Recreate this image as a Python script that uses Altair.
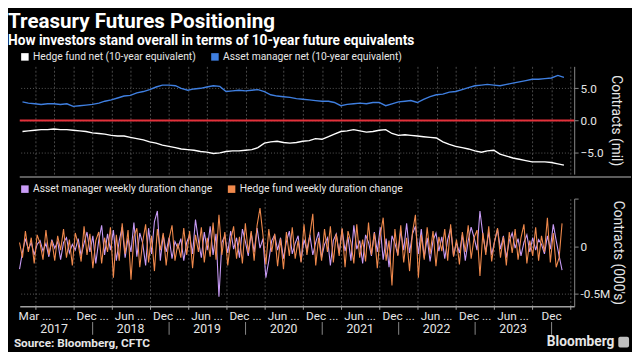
import altair as alt
import pandas as pd

# ---------------- data ----------------
# Monthly net positioning, millions of 10-year future equivalents
hedge_net = [-1.7, -1.6, -1.5, -1.4, -1.4, -1.3, -1.4, -1.4, -1.5, -1.6,
             -1.7, -1.9, -2.0, -2.1, -2.3, -2.4, -2.4, -2.6, -2.8, -3.0,
             -3.3, -3.5, -3.8, -4.0, -4.2, -4.4, -4.5, -4.6, -4.8, -4.9,
             -5.1, -5.0, -4.8, -4.7, -4.7, -4.6, -4.5, -4.2, -3.5, -3.3,
             -3.2, -3.4, -3.5, -3.4, -3.2, -3.1, -2.8, -2.9, -2.5, -2.1,
             -1.7, -1.6, -1.4, -1.6, -1.8, -1.7, -1.5, -1.4, -2.0, -2.3,
             -2.2, -2.3, -2.4, -2.5, -2.6, -2.7, -3.3, -3.7, -4.0, -4.2,
             -4.4, -4.7, -4.9, -4.7, -4.6, -5.2, -5.5, -5.8, -6.0, -6.2,
             -6.4, -6.4, -6.4, -6.5, -6.7, -6.9]
asset_net = [2.9, 2.7, 2.6, 2.5, 2.6, 2.6, 2.5, 2.6, 2.2, 2.3,
             2.4, 2.5, 2.7, 3.0, 3.2, 3.5, 3.8, 3.9, 4.3, 4.5,
             4.8, 5.2, 5.5, 5.5, 5.4, 5.0, 4.7, 4.9, 5.0, 5.2,
             5.4, 5.3, 4.5, 4.6, 4.7, 4.6, 4.7, 4.8, 4.5, 4.0,
             3.8, 3.7, 3.6, 3.4, 3.3, 3.2, 3.1, 3.0, 3.0, 2.8,
             2.3, 2.5, 2.6, 2.7, 2.6, 2.8, 2.8, 2.3, 2.6, 2.9,
             3.0, 3.1, 2.8, 3.3, 3.7, 4.0, 4.1, 4.4, 4.5, 4.8,
             5.1, 5.4, 5.5, 5.6, 5.5, 5.4, 5.6, 5.8, 6.0, 6.2,
             6.4, 6.4, 6.5, 6.6, 7.0, 6.7]

# Duration changes (thousands of contracts), sampled every two weeks
am_change = [-240, -60, 80, -30, 40, -90, 20, 60, -50, 30,
             -110, 70, -20, 50, -140, 40, 90, -70, 20, -40,
             80, -100, 30, 150, -60, 110, -180, 60, 220, -90,
             130, -40, 170, -150, 60, 200, -120, 90, -60, 250,
             -110, 140, 30, -200, 190, -80, 260, 370, -150, 120,
             -60, 90, -130, 50, -20, 80, -150, 40, 120, -80,
             280, 60, -120, 150, -40, 210, -90, 130, -530, 40,
             110, -70, 160, -30, 90, -120, 180, 50, -100, 140,
             -60, 190, -20, 80, -330, -150, 60, 120, -40, 90,
             -130, 50, 160, -80, 30, 110, -160, 70, -40, 120,
             -90, 40, 150, -120, 20, 90, -200, 60, 130, -70,
             180, -50, 100, -150, 220, -30, 60, -180, 120, 40,
             -100, 150, -60, 200, -140, 80, -220, 110, 30, -90,
             160, -40, 240, -70, 130, 210, -80, 180, -120, 90,
             -160, 60, 140, -50, 100, -130, 70, 190, -100, 40,
             -70, 120, -150, 60, 200, 90, -40, 370, 120, -60,
             150, -90, 50, 180, -30, 110, -120, 60, 140, -20,
             80, -100, 40, 120, -60, 90, -40, 70, 20, -80,
             110, -30, 230, 60, -100, -250]
hf_change = [40, -120, 160, -60, 90, -180, 120, 30, -140, 170,
             -90, 60, -150, 110, -40, 180, -120, 70, -200, 140,
             20, -160, 210, -90, 130, -230, 60, 150, -180, 90,
             -60, 200, -330, 120, -150, 240, -80, 170, -350, 100,
             190, -220, 50, 230, -170, 110, -260, 180, -40, 140,
             -200, 80, 220, -150, 30, -120, 190, -90, 160, -230,
             120, -60, 200, -170, 90, -110, 250, -140, 330, -90,
             150, -200, 60, 210, -130, 100, -180, 240, -70, 160,
             -150, 220, 400, 120, -190, 180, -60, 130, -210, 80,
             -240, 150, -100, 200, -130, 60, -170, 230, -90, 120,
             340, -200, 90, -150, 180, -60, 210, -170, 130, -100,
             190, -220, 160, 40, -180, 230, -120, 70, -160, 250,
             -90, 140, -230, 110, 300, -150, 60, -410, 180, -100,
             220, -170, 90, -260, 150, 330, -330, 120, -140, 200,
             -80, 160, -210, 100, -50, 180, -150, 230, -110, 70,
             -190, 150, -60, 220, -130, 90, 170, -310, 140, -90,
             210, -160, 60, 190, -120, 100, -200, 150, -70, 180,
             -140, 90, 230, -180, 60, -100, 200, -150, 110, -60,
             300, -170, 140, -220, -120, 240]

top_series = ["Hedge fund net (10-year equivalent)", "Asset manager net (10-year equivalent)"]
top_colors = ["#ffffff", "#3f7fe0"]
bot_series = ["Asset manager weekly duration change", "Hedge fund weekly duration change"]
bot_colors = ["#c99cf7", "#f0894c"]

tick_dates = ["2017-04-01", "2017-09-01", "2018-01-01", "2018-07-01", "2019-01-01", "2019-07-01",
              "2020-01-01", "2020-07-01", "2021-01-01", "2021-07-01", "2022-01-01", "2022-07-01",
              "2023-01-01", "2023-07-01", "2024-01-01"]
tick_texts = ["Mar ...", "...", "Dec ...", "Jun ...", "Dec ...", "Jun ...",
              "Dec ...", "Jun ...", "Dec ...", "Jun ...", "Dec ...", "Jun ...",
              "Dec ...", "Jun ...", "Dec"]

year_labels = ["2017", "2018", "2019", "2020", "2021", "2022", "2023"]
year_mid = ["2017-07-01", "2018-07-01", "2019-07-01", "2020-07-01", "2021-07-01", "2022-07-01", "2023-07-01"]
year_breaks = ["2018-01-01", "2019-01-01", "2020-01-01", "2021-01-01", "2022-01-01", "2023-01-01", "2024-01-01"]

title_text = "Treasury Futures Positioning"
subtitle_text = "How investors stand overall in terms of 10-year future equivalents"
source_text = "Source: Bloomberg, CFTC"

# ---------------- tables ----------------
month_dates = (pd.date_range("2017-02-01", periods=len(hedge_net), freq="MS")
               - pd.Timedelta(days=1)).strftime("%Y-%m-%d").tolist()
week_dates = pd.date_range("2017-01-17", periods=len(am_change), freq="14D").strftime("%Y-%m-%d").tolist()

top_df = pd.DataFrame({
    "date": month_dates * 2,
    "value": hedge_net + asset_net,
    "series": [top_series[0]] * len(hedge_net) + [top_series[1]] * len(asset_net),
})
bot_df = pd.DataFrame({
    "date": week_dates * 2,
    "value": am_change + hf_change,
    "series": [bot_series[0]] * len(am_change) + [bot_series[1]] * len(hf_change),
})
tick_df = pd.DataFrame({"date": tick_dates, "label": tick_texts})
year_df = pd.DataFrame({"date": year_mid, "label": year_labels})
break_df = pd.DataFrame({"date": year_breaks})

# ---------------- styling ----------------
W, H = 566, 110
FONT = "Roboto, sans-serif"
BOLD = "Roboto, Noto Sans, sans-serif"
TXT = "#e6e6e6"

x_dom = [alt.DateTime(year=2017, month=1, date=18, utc=True),
         alt.DateTime(year=2024, month=4, date=18, utc=True)]
quarters = [alt.DateTime(year=y, month=m, date=1, utc=True)
            for y in range(2017, 2025) for m in (1, 4, 7, 10)
            if not (y == 2017 and m == 1) and not (y == 2024 and m > 4)]
xs = alt.Scale(type="utc", domain=x_dom)

top_x_axis = alt.Axis(values=quarters, labels=False, ticks=False, domain=False, grid=True,
                      gridColor="#4a4a4a", gridDash=[2, 2], title=None)
bot_x_axis = alt.Axis(values=quarters, labels=False, grid=True, gridColor="#4a4a4a",
                      gridDash=[2, 2], title=None, domainColor="#a0a0a0", domainWidth=1.5,
                      tickColor="#a0a0a0", tickSize=3)

top_y_axis = alt.Axis(orient="right", values=[-5, 0, 5], format=".1f",
                      title="Contracts (mil)", grid=True, gridColor="#5a5a5a", gridDash=[1, 2],
                      domainColor="#8a8a8a", tickColor="#8a8a8a", tickSize=4, labelOverlap=False,
                      labelColor=TXT, labelFontSize=12, labelFont=FONT, labelPadding=2,
                      titleColor=TXT, titleFontSize=14, titleFont=FONT, titleFontWeight="normal",
                      titlePadding=6)
bot_y_axis = alt.Axis(orient="right", values=[-500, 0, 500], labelOverlap=False,
                      labelExpr="datum.value == 0 ? '0' : datum.value == -500 ? '-0.5M' : ''",
                      title="Contracts (000's)", grid=True, gridColor="#5a5a5a", gridDash=[1, 2],
                      gridOpacity={"condition": {"test": "datum.value == -500", "value": 1}, "value": 0},
                      domainColor="#8a8a8a", tickColor="#8a8a8a", tickSize=4,
                      labelColor=TXT, labelFontSize=12, labelFont=FONT, labelPadding=2,
                      titleColor=TXT, titleFontSize=14, titleFont=FONT, titleFontWeight="normal",
                      titlePadding=1)


def legend():
    return alt.Legend(title=None, orient="none", legendX=0, legendY=-15, direction="horizontal",
                      symbolType="square", symbolSize=10, symbolStrokeWidth=4.5,
                      labelColor=TXT, labelFontSize=10.5, labelFont=FONT, columnPadding=8,
                      symbolOffset=0, padding=0, labelOffset=3, labelLimit=400)


# ---------------- top panel ----------------
top_lines = alt.Chart(top_df).mark_line(strokeWidth=1.4).encode(
    x=alt.X("date:T", scale=xs, axis=top_x_axis),
    y=alt.Y("value:Q", scale=alt.Scale(domain=[-8.3, 8.4], nice=False, zero=False), axis=top_y_axis),
    color=alt.Color("series:N", scale=alt.Scale(domain=top_series, range=top_colors), legend=legend()),
)
zero_rule = alt.Chart(pd.DataFrame({"value": [0.0]})).mark_rule(color="#e3313b", strokeWidth=2).encode(
    y="value:Q")
separator = alt.Chart(pd.DataFrame({"a": [0]})).mark_rule(color="#5c5c5c", strokeWidth=2).encode(
    x=alt.value(0), x2=alt.value(W + 58), y=alt.value(H + 3))
top = alt.layer(top_lines, zero_rule, separator).properties(width=W, height=H)

# ---------------- bottom panel ----------------
bx = alt.X("date:T", scale=xs, axis=bot_x_axis)
by = alt.Y("value:Q", scale=alt.Scale(domain=[-630, 500], nice=False, zero=False), axis=bot_y_axis)
bcol = alt.Color("series:N", scale=alt.Scale(domain=bot_series, range=bot_colors), legend=legend())

am_line = alt.Chart(bot_df).transform_filter(alt.datum.series == bot_series[0]).mark_line(
    strokeWidth=1.1).encode(x=bx, y=by, color=bcol)
hf_line = alt.Chart(bot_df).transform_filter(alt.datum.series == bot_series[1]).mark_line(
    strokeWidth=1.1).encode(x=bx, y=by, color=bcol)
ticks_txt = alt.Chart(tick_df).mark_text(color=TXT, fontSize=12, font=FONT, baseline="middle").encode(
    x="date:T", y=alt.value(H + 10), text="label:N")
years = alt.Chart(year_df).mark_text(color=TXT, fontSize=12.5, font=FONT, baseline="middle").encode(
    x="date:T", y=alt.value(H + 23), text="label:N")
breaks = alt.Chart(break_df).mark_rule(color="#8a8a8a", strokeWidth=1).encode(
    x="date:T", y=alt.value(H + 16), y2=alt.value(H + 29))
source = alt.Chart(pd.DataFrame({"t": [source_text]})).mark_text(
    align="left", baseline="middle", color=TXT, fontSize=12, fontWeight="bold", font=BOLD).encode(
    x=alt.value(-6), y=alt.value(H + 37), text="t:N")
brand = alt.Chart(pd.DataFrame({"t": ["Bloomberg"]})).mark_text(
    align="right", baseline="middle", color=TXT, fontSize=14, fontWeight="bold", font=BOLD).encode(
    x=alt.value(W + 41), y=alt.value(H + 36), text="t:N")
logo = alt.Chart(pd.DataFrame({"a": [0]})).mark_rect(color="#bfbfbf", cornerRadius=2).encode(
    x=alt.value(W + 45), x2=alt.value(W + 56), y=alt.value(H + 31), y2=alt.value(H + 42))

bottom = alt.layer(am_line, hf_line, ticks_txt, years, breaks, source, brand, logo).properties(
    width=W, height=H)

chart = alt.vconcat(top, bottom, spacing=6).resolve_scale(
    color="independent", y="independent"
).properties(
    title=alt.TitleParams(title_text, subtitle=subtitle_text, anchor="start", font=BOLD,
                          fontSize=21, fontWeight="bold", color="#ffffff",
                          subtitleFont=BOLD, subtitleFontSize=14, subtitleFontWeight="bold",
                          subtitleColor="#ffffff", subtitlePadding=2, offset=4, dx=-6),
    padding={"left": 0, "right": 0, "top": 0, "bottom": 0},
    background="#000000",
).configure_view(stroke=None)

chart.save("out.html", embed_options={"renderer": "svg", "actions": False})
